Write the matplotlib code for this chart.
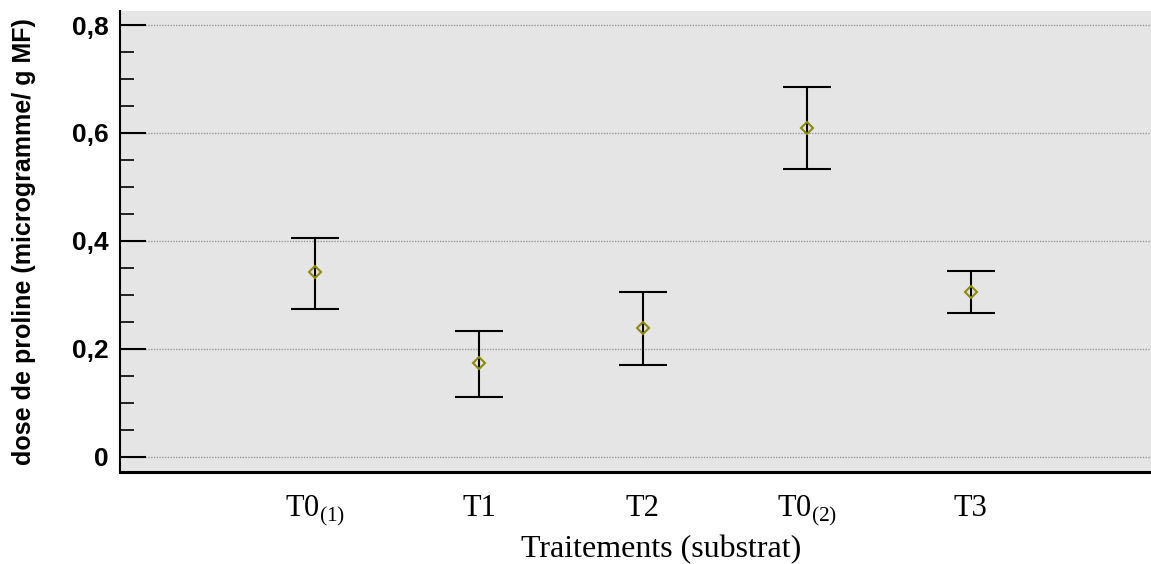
import matplotlib
matplotlib.use("Agg")
import matplotlib.pyplot as plt
from matplotlib.ticker import MultipleLocator, FuncFormatter

categories = [r"T0$_{\mathrm{(1)}}$", "T1", "T2", r"T0$_{\mathrm{(2)}}$", "T3"]
means = [0.343, 0.174, 0.239, 0.609, 0.306]
upper = [0.406, 0.233, 0.306, 0.685, 0.344]
lower = [0.274, 0.111, 0.170, 0.533, 0.267]

plt.rcParams['mathtext.fontset'] = 'custom'
plt.rcParams['mathtext.rm'] = 'Liberation Serif'

fig = plt.figure(figsize=(11.51, 5.64), dpi=100)
ax = fig.add_axes([120/1151, (564-472)/564, (1151-120)/1151, (472-11)/564])
ax.set_facecolor('#e5e5e5')

x = list(range(len(categories)))
yerr = [[m - l for m, l in zip(means, lower)], [u - m for m, u in zip(means, upper)]]
ax.errorbar(x, means, yerr=yerr, fmt='none', ecolor='black', elinewidth=1.5,
            capsize=17, capthick=1.5, zorder=3)
ax.plot(x, means, linestyle='none', marker='D', markersize=6, markerfacecolor='none',
        markeredgecolor='#8c8c00', markeredgewidth=1.5, zorder=4)

ax.set_xlim(-1.19, 5.10)
ax.set_ylim(-0.028, 0.826)
ax.yaxis.set_major_locator(MultipleLocator(0.2))
ax.yaxis.set_minor_locator(MultipleLocator(0.05))
ax.yaxis.set_major_formatter(FuncFormatter(lambda v, p: ("%g" % round(v, 2)).replace('.', ',')))
ax.grid(axis='y', which='major', color='#999999', linestyle=(0, (1, 1)), linewidth=1.0, zorder=1)

ax.set_xticks(x)
ax.set_xticklabels(categories, fontfamily='Liberation Serif', fontsize=22)
ax.tick_params(axis='x', length=0, pad=16)
ax.tick_params(axis='y', which='major', direction='in', length=19, width=1.5, color='black',
               labelsize=19, pad=8)
ax.tick_params(axis='y', which='minor', direction='in', length=10, width=1.2, color='black')
for lab in ax.get_yticklabels():
    lab.set_fontfamily('Liberation Sans')
    lab.set_fontweight('bold')

ax.spines['top'].set_visible(False)
ax.spines['right'].set_visible(False)
ax.spines['left'].set_linewidth(1.5)
ax.spines['bottom'].set_linewidth(2.2)

ax.set_xlabel("Traitements (substrat)", fontfamily='Liberation Serif', fontsize=23)
ax.xaxis.set_label_coords(0.525, -0.168, transform=ax.transAxes)
ax.xaxis.label.set_verticalalignment('center')
ax.set_ylabel("dose de proline (microgramme/ g MF)", fontfamily='Liberation Sans',
              fontweight='bold', fontsize=18, labelpad=26)

fig.savefig("out.png", dpi=100)
